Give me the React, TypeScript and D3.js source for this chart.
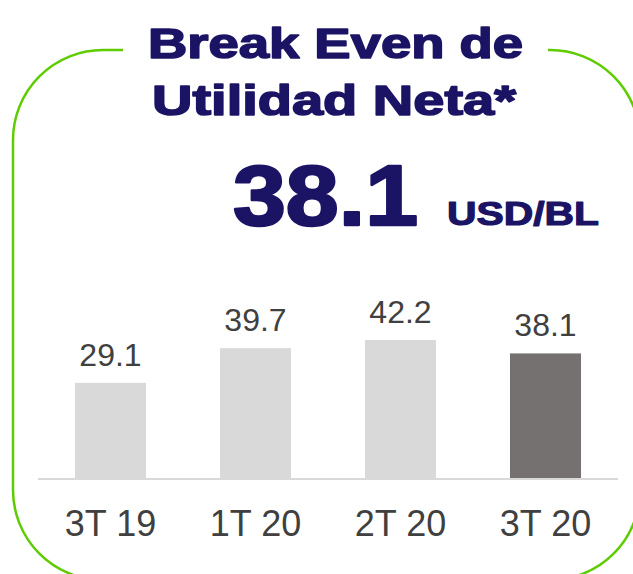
import { useEffect, useRef } from "react"
import * as d3 from "d3"

const categories = ["3T 19", "1T 20", "2T 20", "3T 20"]
const values = [29.1, 39.7, 42.2, 38.1]
const titleLines = ["Break Even de", "Utilidad Neta*"]
const headlineValue = "38.1"
const headlineUnit = "USD/BL"

const NAVY = "#1b1464"
const GREEN = "#5fcc00"
const FONT = "'Liberation Sans', Arial, sans-serif"

export default function App() {
    const ref = useRef<SVGSVGElement | null>(null)

    useEffect(() => {
        const node = ref.current
        if (!node) return

        const width = 633
        const height = 574
        const svg = d3.select(node)
        svg.selectAll("*").remove()

        // rounded frame with a gap for the title
        const p = d3.path()
        p.moveTo(548, 50)
        p.arcTo(640, 50, 640, 580, 90)
        p.arcTo(640, 580, 13, 580, 90)
        p.arcTo(13, 580, 13, 50, 90)
        p.arcTo(13, 50, 640, 50, 90)
        p.lineTo(123, 50)

        svg.append("path")
            .attr("d", p.toString())
            .attr("fill", "none")
            .attr("stroke", GREEN)
            .attr("stroke-width", 2.5)

        // heavy navy text, thickened a bit with a stroke
        const title = svg.append("g")
            .attr("font-family", FONT)
            .attr("font-weight", 700)
            .attr("fill", NAVY)
            .attr("stroke", NAVY)
            .attr("stroke-linejoin", "round")

        title.append("text")
            .attr("x", 148)
            .attr("y", 58)
            .attr("font-size", 43)
            .attr("stroke-width", 1.6)
            .attr("textLength", 375)
            .attr("lengthAdjust", "spacingAndGlyphs")
            .text(titleLines[0])

        title.append("text")
            .attr("x", 152)
            .attr("y", 115)
            .attr("font-size", 43)
            .attr("stroke-width", 1.6)
            .attr("textLength", 364)
            .attr("lengthAdjust", "spacingAndGlyphs")
            .text(titleLines[1])

        title.append("text")
            .attr("x", 233)
            .attr("y", 225)
            .attr("font-size", 85)
            .attr("stroke-width", 2.5)
            .attr("textLength", 185)
            .attr("lengthAdjust", "spacingAndGlyphs")
            .text(headlineValue)

        title.append("text")
            .attr("x", 447)
            .attr("y", 225)
            .attr("font-size", 34)
            .attr("stroke-width", 1.2)
            .attr("textLength", 152)
            .attr("lengthAdjust", "spacingAndGlyphs")
            .text(headlineUnit)

        // bars
        const x = d3.scaleBand()
            .domain(categories)
            .range([38, 618])
            .paddingInner(0.51)
            .paddingOuter(0.255)

        const y = d3.scaleLinear()
            .domain([0, 50])
            .range([478, 314.5])

        const data = categories.map((c, i) => ({ cat: c, value: values[i] }))

        svg.append("g")
            .selectAll("rect")
            .data(data)
            .join("rect")
            .attr("x", d => x(d.cat) ?? 0)
            .attr("y", d => y(d.value))
            .attr("width", x.bandwidth())
            .attr("height", d => y(0) - y(d.value))
            .attr("fill", (d, i) => (i === data.length - 1 ? "#767171" : "#d9d9d9"))

        svg.append("line")
            .attr("x1", 38)
            .attr("x2", 618)
            .attr("y1", y(0) + 1)
            .attr("y2", y(0) + 1)
            .attr("stroke", "#d9d9d9")
            .attr("stroke-width", 2)

        svg.append("g")
            .selectAll("text")
            .data(data)
            .join("text")
            .attr("x", d => (x(d.cat) ?? 0) + x.bandwidth() / 2)
            .attr("y", d => y(d.value) - 17)
            .attr("text-anchor", "middle")
            .attr("font-family", FONT)
            .attr("font-size", 32)
            .attr("fill", "#404040")
            .text(d => d.value.toFixed(1))

        svg.append("g")
            .selectAll("text")
            .data(data)
            .join("text")
            .attr("x", d => (x(d.cat) ?? 0) + x.bandwidth() / 2)
            .attr("y", 536)
            .attr("text-anchor", "middle")
            .attr("font-family", FONT)
            .attr("font-size", 36)
            .attr("fill", "#404040")
            .text(d => d.cat)

        svg.attr("width", width).attr("height", height)
    }, [])

    return (
        <svg
            ref={ref}
            width={633}
            height={574}
            style={{ position: "absolute", left: 0, top: 0, background: "#fff" }}
        />
    )
}
